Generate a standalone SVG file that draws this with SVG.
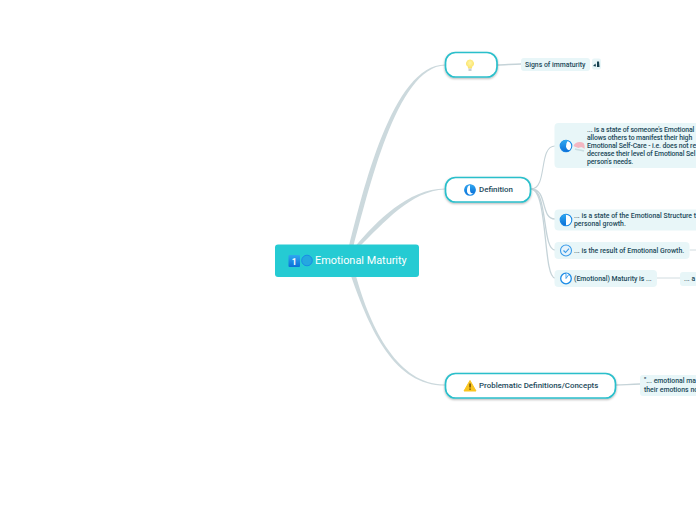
<svg xmlns="http://www.w3.org/2000/svg" width="696" height="520" viewBox="0 0 696 520">
<defs>
<filter id="sh" x="-10%" y="-20%" width="120%" height="150%"><feDropShadow dx="0" dy="1" stdDeviation="0.8" flood-color="#000" flood-opacity="0.3"/></filter>
<radialGradient id="bulb" cx="50%" cy="40%" r="55%"><stop offset="0" stop-color="#fff6a8"/><stop offset="1" stop-color="#fbe36a"/></radialGradient>
<linearGradient id="blue" x1="0" y1="0" x2="0" y2="1"><stop offset="0" stop-color="#2ea8f0"/><stop offset="1" stop-color="#0b6fd8"/></linearGradient>
</defs>
<style>
text{font-family:Roboto,"Liberation Sans",sans-serif;fill:#1d4a5a}
.t{font-size:7.9px;font-weight:500}
.s{font-size:6.9px;font-weight:500}
.n{letter-spacing:-0.1px}
.main{fill:#fff;stroke:#2bbfcb;stroke-width:1.7;filter:url(#sh)}
.sub{fill:#e8f6f8}
.c{fill:none;stroke:#c5d3d8;stroke-linecap:round}
.ring{fill:#fff;stroke:#1a8be6;stroke-width:1.1}
.pie{fill:url(#blue)}
.b{fill:#ccd9dd}
</style>
<rect width="696" height="520" fill="#fff"/>
<g id="connectors">
<path class="b" d="M349 246C362 195 392 64.400 445 64.400V65.600C396 66.500 368 195 353.500 246Z"/>
<path class="b" d="M355.500 246C376 222 408 188.400 445 188.400V189.600C411 190.500 383 224 360 246Z"/>
<path class="b" d="M351 276C370 330 394 385.600 445 385.600V384.400C399 385 371 330 356 276Z"/>
<path class="c" d="M497 65C505 65 512 64 521 64" stroke-width="1.300"/>
<path class="c" d="M531 189C548 189 538 146 555 146" stroke-width="1.100"/>
<path class="c" d="M531 189C548 189 540 219 555 219" stroke-width="1.300"/>
<path class="c" d="M531 189C548 189 542 250 555 250" stroke-width="1.300"/>
<path class="c" d="M531 189C548 189 543 278 555 278" stroke-width="1.300"/>
<path class="c" d="M616 385C624 385 630 384 640 384" stroke-width="1.300"/>
<path class="c" d="M657 278H680" stroke-width="0.800"/>
<path class="c" d="M690 250H696" stroke-width="0.800"/>
</g>
<g id="root">
<rect x="275" y="244.500" width="144" height="32.500" rx="3" fill="#25cbd3"/>
<rect x="288.500" y="255" width="11.500" height="12" rx="1" fill="url(#blue)"/>
<text x="294.200" y="264.500" text-anchor="middle" style="fill:#fff;font-size:8.500px;font-weight:700">1</text>
<circle cx="307" cy="260.500" r="5.300" fill="#25a8e0" stroke="#1a8be6" stroke-width="1"/>
<text x="315" y="263.800" style="fill:#fff;font-size:10.900px;font-weight:400">Emotional Maturity</text>
</g>
<g id="idea">
<rect class="main" x="445.500" y="52.500" width="51.500" height="24.500" rx="10"/>
<path d="M470 59.500a3.900 3.900 0 0 1 2.300 7.100l-.4 1.800h-3.800l-.4-1.800a3.900 3.900 0 0 1 2.300-7.100Z" fill="url(#bulb)"/>
<rect x="468.500" y="68.500" width="3" height="2.500" fill="#c9cfd2"/>
</g>
<g id="definition">
<rect class="main" x="445.500" y="177.500" width="85" height="24.500" rx="10"/>
<circle class="ring" cx="470" cy="190" r="5.300"/>
<path class="pie" d="M470 190V184.700A5.300 5.300 0 0 1 474 193.500Q470 194 470 190Z"/>
<path class="pie" d="M470 184.700A5.300 5.300 0 0 0 466.500 194Q468 195 470 195.300A5.300 5.300 0 0 1 467 190Q467 186 470 184.700Z"/>
<text class="t" x="479" y="192">Definition</text>
</g>
<g id="problematic">
<rect class="main" x="445.500" y="373.500" width="170" height="24.500" rx="10"/>
<path d="M470 380.500L476 391H464Z" fill="#f9c51f" stroke="#f9c51f" stroke-width="1" stroke-linejoin="round"/>
<rect x="469.400" y="383.500" width="1.300" height="4" fill="#5a3b00"/><rect x="469.400" y="388.500" width="1.300" height="1.300" fill="#5a3b00"/>
<text class="t" x="479" y="388">Problematic Definitions/Concepts</text>
</g>
<g id="signs">
<rect class="sub" x="521" y="58" width="69" height="13" rx="3"/>
<text class="s" x="525" y="67">Signs of immaturity</text>
<rect class="sub" x="592" y="58.500" width="9" height="11" rx="2"/>
<path d="M593 66l2.500-2.500 .5 3ZM597 61l1 1 1-1 .5 6h-2.500Z" fill="#14404f"/>
</g>
<g id="def1">
<rect class="sub" x="554.500" y="123" width="160" height="45" rx="4"/>
<circle class="ring" cx="566" cy="146" r="5.800"/>
<path d="M568 140.400A5.800 5.800 0 1 0 570 150.200Q566.500 150 566 146.500Q566 142.500 568 140.400Z" fill="url(#blue)"/>
<path d="M573.500 146c1-4 7-5 10-3 1 1 1.500 4 1 6-2 -2-4-2-6-1-2-1-4-1-5-2Z" fill="#f3b7c3"/>
<path d="M575 149c2 1 6 1 9 2" stroke="#c9dde2" stroke-width="1.400" fill="none"/>
<text class="s n" x="587" y="131.500">... is a state of someone's Emotional</text>
<text class="s n" x="587" y="139.500">allows others to manifest their high</text>
<text class="s n" x="587" y="147.500">Emotional Self-Care - i.e. does not re</text>
<text class="s n" x="587" y="155.500">decrease their level of Emotional Sel</text>
<text class="s n" x="587" y="163.500">person's needs.</text>
</g>
<g id="def2">
<rect class="sub" x="554.500" y="209.500" width="160" height="21" rx="4"/>
<circle class="ring" cx="566" cy="220" r="5.800"/>
<path d="M566 214.200A5.800 5.800 0 0 0 566 225.800Z" fill="url(#blue)"/>
<text class="s" x="574" y="218">... is a state of the Emotional Structure t</text>
<text class="s" x="574" y="226">personal growth.</text>
</g>
<g id="def3">
<rect class="sub" x="554.500" y="242" width="135" height="17" rx="4"/>
<circle cx="566" cy="250.500" r="5.500" fill="#e6f3fb" stroke="#3a9be8" stroke-width="1.100"/>
<path d="M563.500 250.500l2 2 3.500-3.800" fill="none" stroke="#3a9be8" stroke-width="1.100"/>
<text class="s" x="574" y="253">... is the result of Emotional Growth.</text>
</g>
<g id="def4">
<rect class="sub" x="554.500" y="270" width="102.500" height="17" rx="4"/>
<circle cx="566" cy="278.500" r="5.300" fill="#fff" stroke="#1a8be6" stroke-width="1.300"/>
<path d="M566 273.200V278.500L569 274.200" fill="#fff" stroke="#1a8be6" stroke-width="0.800"/>
<text class="s" x="574" y="281">(Emotional) Maturity is ...</text>
</g>
<g id="def4a">
<rect class="sub" x="680" y="272" width="40" height="14" rx="3"/>
<text class="s" x="684" y="281">... a</text>
</g>
<g id="quote">
<rect class="sub" x="640" y="375" width="80" height="21" rx="3"/>
<text class="s" x="644" y="383">"...  emotional ma</text>
<text class="s" x="644" y="391.500">their emotions no</text>
</g>
</svg>
